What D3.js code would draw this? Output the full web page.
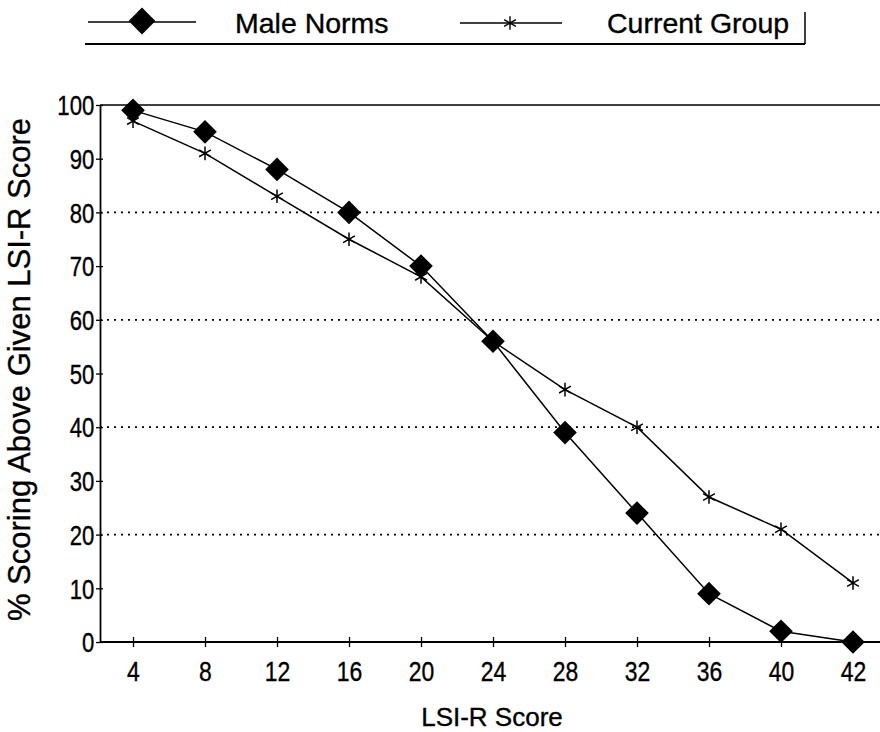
<!DOCTYPE html>
<html>
<head>
<meta charset="utf-8">
<script src="https://cdn.jsdelivr.net/npm/d3@7"></script>
<style>
  body { margin: 0; background: #fff; }
  text { font-family: "Liberation Sans", Arial, sans-serif; fill: #000; stroke: #000; stroke-width: 0.35px; }
</style>
</head>
<body>
<div class="container"></div>
<script>
// data
var scores = ['4', '8', '12', '16', '20', '24', '28', '32', '36', '40', '42'];
var maleNorms = [99, 95, 88, 80, 70, 56, 39, 24, 9, 2, 0];
var currentGroup = [97, 91, 83, 75, 68, 56, 47, 40, 27, 21, 11];
var yTicks = [0, 10, 20, 30, 40, 50, 60, 70, 80, 90, 100];
var gridTicks = [20, 40, 60, 80];

var svgWidth = 880;
var svgHeight = 732;

var margin = { top: 105, bottom: 90, left: 100, right: 0 };
var chartWidth = svgWidth - margin.left - margin.right;
var chartHeight = svgHeight - margin.top - margin.bottom;

var svg = d3.select('.container').append('svg')
    .attr('width', svgWidth).attr('height', svgHeight);

var chartGroup = svg.append('g')
    .attr('transform', `translate(${margin.left},${margin.top})`);

// scales
var xScale = d3.scalePoint().domain(scores).range([33, 753]);
var yScale = d3.scaleLinear().domain([0, 100]).range([chartHeight, 0]);

// dotted gridlines
chartGroup.append('g').selectAll('line')
    .data(gridTicks)
    .enter()
    .append('line')
    .attr('x1', 0).attr('x2', chartWidth)
    .attr('y1', d => yScale(d)).attr('y2', d => yScale(d))
    .attr('stroke', '#000')
    .attr('stroke-width', 1.8)
    .attr('stroke-dasharray', '2,5');

// top frame line
chartGroup.append('line')
    .attr('x1', 0).attr('x2', chartWidth)
    .attr('y1', yScale(100)).attr('y2', yScale(100))
    .attr('stroke', '#000').attr('stroke-width', 1.6);

// axes
var leftAxis = d3.axisLeft(yScale).tickValues(yTicks).tickSizeInner(4).tickSizeOuter(0).tickPadding(3);
var bottomAxis = d3.axisBottom(xScale).tickSizeInner(5).tickSizeOuter(0).tickPadding(15);

var yAxis = chartGroup.append('g').classed('y-axis', true).call(leftAxis);
var xAxis = chartGroup.append('g').classed('x-axis', true)
    .attr('transform', `translate(0,${chartHeight})`)
    .call(bottomAxis);

xAxis.select('.domain').attr('d', `M0,0H${chartWidth}`);

[yAxis, xAxis].forEach(ax => {
    ax.select('.domain').attr('stroke', '#000').attr('stroke-width', 1.8);
    ax.selectAll('.tick line').attr('stroke', '#000').attr('stroke-width', 1.3);
});
// ticks cross the axes
yAxis.selectAll('.tick line').attr('x1', 3);
xAxis.selectAll('.tick line').attr('y1', -5);

yAxis.selectAll('.tick text').attr('font-size', 27).attr('font-family', null)
    .attr('transform', 'scale(0.82,1)').attr('dy', '0.36em');
xAxis.selectAll('.tick text').attr('font-size', 27).attr('font-family', null)
    .attr('transform', 'scale(0.85,1)');

// lines
var line = d3.line()
    .x((d, i) => xScale(scores[i]))
    .y(d => yScale(d));

chartGroup.append('path')
    .datum(maleNorms)
    .attr('d', line)
    .attr('fill', 'none').attr('stroke', '#000').attr('stroke-width', 1.5);

chartGroup.append('path')
    .datum(currentGroup)
    .attr('d', line)
    .attr('fill', 'none').attr('stroke', '#000').attr('stroke-width', 1.5);

var diamond = d3.symbol().type(d3.symbolSquare).size(280);
var star = d3.symbol().type(d3.symbolAsterisk).size(130);

chartGroup.append('g').selectAll('path')
    .data(currentGroup)
    .enter()
    .append('path')
    .attr('d', star)
    .attr('transform', (d, i) => `translate(${xScale(scores[i])},${yScale(d)})`)
    .attr('fill', 'none').attr('stroke', '#000').attr('stroke-width', 1.5);

chartGroup.append('g').selectAll('path')
    .data(maleNorms)
    .enter()
    .append('path')
    .attr('d', diamond)
    .attr('transform', (d, i) => `translate(${xScale(scores[i])},${yScale(d)}) rotate(45)`)
    .attr('fill', '#000');

// axis titles
chartGroup.append('text')
    .attr('x', 392)
    .attr('y', chartHeight + 84)
    .attr('text-anchor', 'middle')
    .attr('font-size', 26)
    .attr('transform', 'scale(1,1)')
    .text('LSI-R Score');

chartGroup.append('text')
    .attr('transform', `translate(-70,${chartHeight / 2 - 4}) rotate(-90)`)
    .attr('text-anchor', 'middle')
    .attr('font-size', 31)
    .text('% Scoring Above Given LSI-R Score');

// legend
var legend = svg.append('g');
legend.append('line').attr('x1', 88).attr('x2', 196).attr('y1', 22).attr('y2', 22)
    .attr('stroke', '#000').attr('stroke-width', 1.5);
legend.append('path').attr('d', d3.symbol().type(d3.symbolSquare).size(360))
    .attr('transform', 'translate(142,21) rotate(45)').attr('fill', '#000');
legend.append('text').attr('x', 235).attr('y', 33).attr('font-size', 28.5).text('Male Norms');

legend.append('line').attr('x1', 460).attr('x2', 562).attr('y1', 23).attr('y2', 23)
    .attr('stroke', '#000').attr('stroke-width', 1.5);
legend.append('path').attr('d', star)
    .attr('transform', 'translate(510,23)').attr('fill', 'none')
    .attr('stroke', '#000').attr('stroke-width', 1.4);
legend.append('text').attr('x', 607).attr('y', 33).attr('font-size', 28.5).text('Current Group');

legend.append('line').attr('x1', 85).attr('x2', 805).attr('y1', 44).attr('y2', 44)
    .attr('stroke', '#000').attr('stroke-width', 2.2);
legend.append('line').attr('x1', 805).attr('x2', 805).attr('y1', 12).attr('y2', 44)
    .attr('stroke', '#000').attr('stroke-width', 1.5);
</script>
</body>
</html>
